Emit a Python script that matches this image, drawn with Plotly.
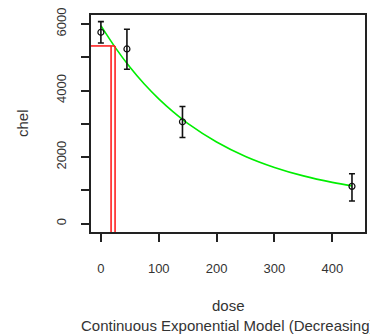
import plotly.graph_objects as go

# ---- data ----
dose = [0, 45, 141, 434]
mean_chel = [5750, 5250, 3060, 1120]
err_up = [320, 590, 460, 380]
err_dn = [320, 610, 470, 440]

curve_dose = [0, 25, 50, 75, 100, 125, 150, 200, 250, 300, 350, 400, 434]
curve_chel = [5950, 5290, 4705, 4195, 3750, 3360, 3015, 2455, 2020, 1690, 1435, 1240, 1135]

bmd = 24.5
bmdl = 17.6
bmr_level = 5340

x_ticks = [0, 100, 200, 300, 400]
y_ticks = [0, 1000, 2000, 3000, 4000, 5000, 6000]
y_tick_labels = ["0", "", "2000", "", "4000", "", "6000"]

x_range = [-17.1, 456.5]
y_range = [-252, 6270]

FONT = "Liberation Sans, Arial, sans-serif"
TXT = "#333333"

fig = go.Figure()

# fitted model curve
fig.add_trace(go.Scatter(x=curve_dose, y=curve_chel, mode="lines",
                         line=dict(color="#00ee00", width=1.6, shape="spline"),
                         hoverinfo="skip", showlegend=False))

# BMR horizontal line and BMD / BMDL verticals
fig.add_trace(go.Scatter(x=[x_range[0], bmd], y=[bmr_level, bmr_level], mode="lines",
                         line=dict(color="#ff2020", width=1.6), showlegend=False))
fig.add_trace(go.Scatter(x=[bmd, bmd], y=[y_range[0], bmr_level], mode="lines",
                         line=dict(color="#ff2020", width=1.6), showlegend=False))
fig.add_trace(go.Scatter(x=[bmdl, bmdl], y=[y_range[0], bmr_level], mode="lines",
                         line=dict(color="#ff2020", width=1.6), showlegend=False))

# observed means with error bars
fig.add_trace(go.Scatter(x=dose, y=mean_chel, mode="markers",
                         marker=dict(symbol="circle-open", size=6, color="#111111",
                                     line=dict(width=1.2)),
                         error_y=dict(type="data", array=err_up, arrayminus=err_dn,
                                      symmetric=False, color="#111111",
                                      thickness=1.6, width=3),
                         showlegend=False))

axis_common = dict(showgrid=False, zeroline=False, showline=True, linecolor="#222222",
                   linewidth=1.5, mirror=True, ticks="outside", ticklen=8,
                   tickwidth=1.5, tickcolor="#222222",
                   tickfont=dict(family=FONT, size=13, color=TXT))

fig.update_layout(
    width=370, height=335,
    margin=dict(l=91, r=3, t=15, b=103),
    paper_bgcolor="white", plot_bgcolor="white",
    xaxis=dict(range=x_range, tickvals=x_ticks, ticklabelstandoff=16, **axis_common),
    yaxis=dict(range=y_range, tickvals=y_ticks, ticktext=y_tick_labels,
               tickangle=-90, ticklabelstandoff=10, **axis_common),
    annotations=[
        dict(text="dose", xref="paper", yref="paper", x=0.5, y=-0.34,
             xanchor="center", yanchor="middle", showarrow=False,
             font=dict(family=FONT, size=15, color=TXT)),
        dict(text="Continuous Exponential Model (Decreasing)", xref="paper", yref="paper",
             x=0.5, y=-0.43, xanchor="center", yanchor="middle", showarrow=False,
             font=dict(family=FONT, size=15, color=TXT)),
        dict(text="chel", xref="paper", yref="paper", x=-0.25, y=0.5, textangle=-90,
             xanchor="center", yanchor="middle", showarrow=False,
             font=dict(family=FONT, size=15, color=TXT)),
    ],
)

fig.write_html("out.html")
